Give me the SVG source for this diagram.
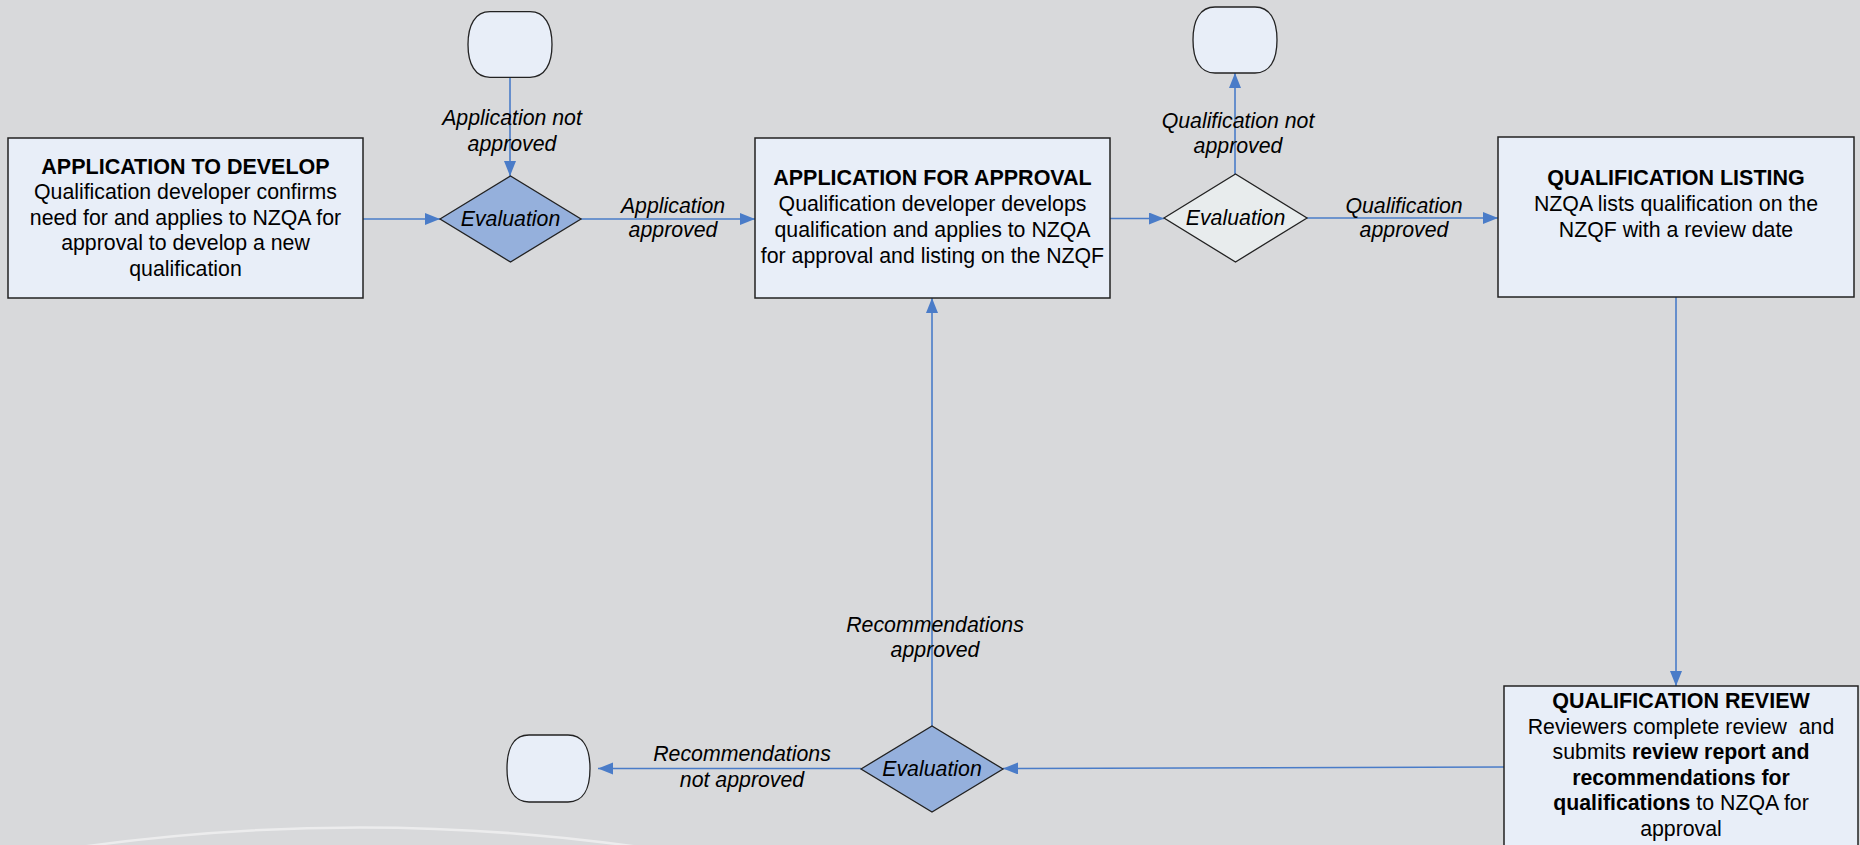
<svg xmlns="http://www.w3.org/2000/svg" width="1860" height="845" viewBox="0 0 1860 845">
<defs>
<marker id="arr" markerUnits="userSpaceOnUse" markerWidth="16" markerHeight="14" refX="15" refY="6" orient="auto">
<path d="M0,0 L15,6 L0,12 Z" fill="#4a7cc8"/>
</marker>
<style>
.bg{fill:#d8d9db}
.box{fill:#e8eef8;stroke:#222;stroke-width:1.5}
.term{fill:#e8eef8;stroke:#222;stroke-width:1.3}
.dia{fill:#95b0dc;stroke:#222;stroke-width:1.3}
.dia2{fill:#e8eced;stroke:#222;stroke-width:1.3}
.con{fill:none;stroke:#4a7cc8;stroke-width:1.6;marker-end:url(#arr)}
text{font-family:"Liberation Sans",Arial,sans-serif;font-size:21.3px;fill:#000;text-anchor:middle}
.h{font-weight:bold;font-size:21.5px}
.lab{font-style:italic;font-size:21.3px}
.b{font-weight:bold}
</style>
</defs>
<rect class="bg" x="0" y="0" width="1860" height="845"/>
<path d="M60 850 Q360 805 660 850" fill="none" stroke="#ffffff" stroke-opacity="0.5" stroke-width="2.5"/>

<g id="connectors">
<path class="con" d="M363 219 H440"/>
<path class="con" d="M510 77 V176"/>
<path class="con" d="M581 219 H755"/>
<path class="con" d="M1110 218.5 H1164"/>
<path class="con" d="M1235 174 V73"/>
<path class="con" d="M1307 218 H1498"/>
<path class="con" d="M1676 297 V686"/>
<path class="con" d="M1504 767 L1003 768.5"/>
<path class="con" d="M932 726 V298"/>
<path class="con" d="M861 768.5 H598"/>
</g>

<g id="node-application-to-develop">
<rect class="box" x="8" y="138" width="355" height="160"/>
<text class="h" x="185.5" y="173.5">APPLICATION TO DEVELOP</text>
<text x="185.5" y="199">Qualification developer confirms</text>
<text x="185.5" y="224.5">need for and applies to NZQA for</text>
<text x="185.5" y="250">approval to develop a new</text>
<text x="185.5" y="275.5">qualification</text>
</g>

<g id="node-terminal-1">
<path class="term" d="M490 11.7 H530 C545 11.7 552 25 552 44.5 C552 64 545 77.3 530 77.3 H490 C475 77.3 468 64 468 44.5 C468 25 475 11.7 490 11.7 Z"/>
</g>

<g id="node-evaluation-1">
<path class="dia" d="M440 219 L510.5 176 L581 219 L510.5 262 Z"/>
<text class="lab" x="510.5" y="225.5">Evaluation</text>
</g>

<g id="node-application-for-approval">
<rect class="box" x="755" y="138" width="355" height="160"/>
<text class="h" x="932.5" y="185">APPLICATION FOR APPROVAL</text>
<text x="932.5" y="211">Qualification developer develops</text>
<text x="932.5" y="237">qualification and applies to NZQA</text>
<text x="932.5" y="263">for approval and listing on the NZQF</text>
</g>

<g id="node-evaluation-2">
<path class="dia2" d="M1164 218 L1235.5 174 L1307 218 L1235.5 262 Z"/>
<text class="lab" x="1235.5" y="224.5">Evaluation</text>
</g>

<g id="node-terminal-2">
<path class="term" d="M1215 7 H1255 C1270 7 1277 20 1277 40 C1277 60 1270 73 1255 73 H1215 C1200 73 1193 60 1193 40 C1193 20 1200 7 1215 7 Z"/>
</g>

<g id="node-qualification-listing">
<rect class="box" x="1498" y="137" width="356" height="160"/>
<text class="h" x="1676" y="184.5">QUALIFICATION LISTING</text>
<text x="1676" y="210.5">NZQA lists qualification on the</text>
<text x="1676" y="236.5">NZQF with a review date</text>
</g>

<g id="node-qualification-review">
<rect class="box" x="1504" y="686" width="354" height="180"/>
<text class="h" x="1681" y="708">QUALIFICATION REVIEW</text>
<text x="1681" y="733.5" xml:space="preserve">Reviewers complete review  and</text>
<text x="1681" y="759">submits <tspan class="b">review report and</tspan></text>
<text x="1681" y="784.5" class="b">recommendations for</text>
<text x="1681" y="810"><tspan class="b">qualifications</tspan> to NZQA for</text>
<text x="1681" y="835.5">approval</text>
</g>

<g id="node-evaluation-3">
<path class="dia" d="M861 769 L932 726 L1003 769 L932 812 Z"/>
<text class="lab" x="932" y="775.5">Evaluation</text>
</g>

<g id="node-terminal-3">
<path class="term" d="M529 735 H568 C583 735 590 748 590 768.5 C590 789 583 802 568 802 H529 C514 802 507 789 507 768.5 C507 748 514 735 529 735 Z"/>
</g>

<g id="labels">
<text class="lab" x="512" y="125">Application not</text>
<text class="lab" x="512" y="151">approved</text>
<text class="lab" x="673" y="213">Application</text>
<text class="lab" x="673" y="237">approved</text>
<text class="lab" x="1238" y="128">Qualification not</text>
<text class="lab" x="1238" y="153">approved</text>
<text class="lab" x="1404" y="213">Qualification</text>
<text class="lab" x="1404" y="237">approved</text>
<text class="lab" x="935" y="632">Recommendations</text>
<text class="lab" x="935" y="657">approved</text>
<text class="lab" x="742" y="761">Recommendations</text>
<text class="lab" x="742" y="787">not approved</text>
</g>
</svg>
